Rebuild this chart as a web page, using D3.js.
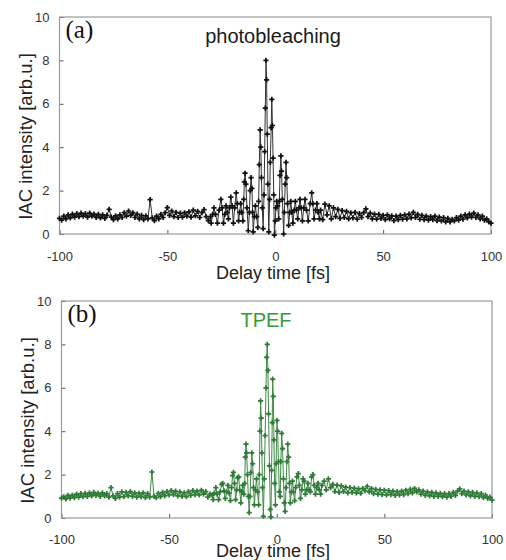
<!DOCTYPE html>
<html>
<head>
<meta charset="utf-8" />
<style>
  body { margin: 0; background: #fff; }
  svg text { font-family: "Liberation Sans", Arial, sans-serif; }
  .tick text { fill: #333; font-size: 13px; }
</style>
</head>
<body>
<div id="chart"></div>
<script src="https://d3js.org/d3.v7.min.js"></script>
<script>
// axis ticks
var xTicks = [-100, -50, 0, 50, 100];
var yTicks = [0, 2, 4, 6, 8, 10];

// (a) photobleaching: wings sampled every 1 fs, centre read fringe by fringe
var wingLeftA = [
  0.72, 0.64, 0.82, 0.70, 0.88, 0.74, 0.92, 0.78, 0.94, 0.80,
  0.96, 0.82, 0.94, 0.78, 0.96, 0.82, 0.92, 0.76, 0.90, 0.74,
  0.88, 0.72, 0.86, 1.14, 0.78, 0.66, 0.84, 0.70, 0.88, 0.76,
  0.98, 0.82, 1.06, 0.86, 0.98, 0.76, 0.92, 0.70, 0.86, 0.66,
  0.84, 0.70, 1.58, 0.74, 0.62, 0.82, 0.70, 0.90, 0.76, 0.98,
  1.22, 0.86, 1.06, 0.80, 1.00, 0.76, 0.96, 0.78, 0.98, 0.82,
  1.02, 0.78, 1.10, 0.84, 1.04, 0.76, 0.98, 1.12, 0.80, 0.62
];
var centreDelayA = [
  -30.0, -29.7, -29.0, -28.4, -27.7, -26.8, -26.0, -25.2, -24.6, -24.0,
  -23.4, -22.8, -22.2, -21.7, -21.2, -20.6, -20.0, -19.4, -18.8, -18.1,
  -17.6, -17.0, -16.5, -16.0, -15.5, -15.0, -14.6, -14.3, -14.0, -13.6,
  -13.1, -12.5, -12.0, -11.6, -11.2, -10.8, -10.5, -10.2, -9.7, -9.2,
  -8.6, -8.1, -7.7, -7.4, -7.0, -6.7, -6.4, -6.0, -5.6, -5.2,
  -4.9, -4.6, -4.3, -4.0, -3.7, -3.4, -3.0, -2.6, -2.3, -1.9,
  -1.6, -1.3, -1.0, -0.7, -0.4, 0.0, 0.3, 0.7, 1.1, 1.6,
  1.9, 2.2, 2.6, 2.9, 3.3, 3.9, 4.2, 4.6, 5.0, 5.3,
  5.7, 6.2, 6.7, 7.2, 7.7, 8.2, 8.8, 9.3, 9.8, 10.4,
  11.0, 11.5, 12.0, 12.6, 13.2, 13.8, 14.5, 15.3, 16.2, 16.9,
  17.4, 18.0, 18.7, 19.3, 19.9, 20.5
];
var centreValueA = [
  0.80, 0.50, 0.90, 1.20, 0.90, 0.50, 1.10, 1.60, 1.20, 0.50,
  0.90, 1.30, 1.00, 0.70, 1.20, 1.70, 1.30, 0.50, 1.20, 1.90,
  1.40, 0.60, 1.00, 1.40, 1.00, 0.60, 1.60, 2.40, 2.80, 2.30,
  1.20, 0.15, 1.00, 2.00, 2.60, 2.10, 1.00, 0.10, 0.80, 1.30,
  0.80, 0.30, 1.50, 3.20, 4.80, 4.00, 2.60, 1.20, 0.25, 1.80,
  3.80, 5.80, 8.00, 7.10, 4.60, 2.30, 0.10, 1.60, 3.30, 4.90,
  6.20, 5.00, 3.50, 1.80, -0.05, 0.60, 1.20, 1.50, 1.30, 0.70,
  1.50, 2.70, 3.60, 2.90, 1.60, 0.00, 1.00, 2.30, 3.30, 2.60,
  1.40, 0.40, 1.00, 1.50, 1.00, 0.50, 1.10, 1.50, 1.10, 0.70,
  1.20, 1.60, 1.20, 0.60, 1.20, 1.60, 1.10, 0.60, 1.40, 1.90,
  1.40, 0.70, 1.10, 1.40, 1.00, 0.70
];
var wingRightA = [
  1.10, 0.66, 1.38, 0.88, 1.30, 0.70, 1.20, 0.80, 1.14, 0.72,
  1.08, 0.76, 1.04, 0.70, 0.98, 0.74, 1.00, 0.68, 0.94, 0.76,
  0.98, 1.16, 0.80, 0.96, 0.70, 0.92, 0.68, 0.90, 0.72, 0.86,
  0.66, 0.88, 0.70, 0.84, 0.62, 0.82, 0.66, 0.86, 0.68, 0.88,
  0.70, 0.92, 0.74, 1.00, 0.76, 0.90, 0.68, 0.86, 0.66, 0.82,
  0.64, 0.80, 0.66, 0.82, 0.62, 0.78, 0.60, 0.76, 0.56, 0.72,
  0.56, 0.68, 0.60, 0.76, 0.64, 0.82, 0.68, 0.88, 0.74, 0.92,
  0.78, 0.96, 0.76, 0.88, 0.70, 0.82, 0.64, 0.70, 0.56, 0.50
];

// (b) TPEF
var wingLeftB = [
  0.92, 0.98, 0.88, 1.04, 0.92, 1.06, 0.94, 1.10, 0.96, 1.12,
  0.98, 1.14, 1.00, 1.16, 1.02, 1.18, 1.04, 1.14, 1.00, 1.16,
  1.02, 1.12, 0.96, 1.40, 1.02, 0.90, 1.12, 0.96, 1.20, 0.98,
  1.18, 1.02, 1.22, 1.00, 1.16, 0.96, 1.14, 0.98, 1.16, 0.94,
  1.12, 0.96, 2.12, 1.00, 0.94, 1.14, 0.98, 1.18, 1.02, 1.22,
  1.06, 1.26, 1.08, 1.24, 1.02, 1.20, 1.00, 1.16, 0.98, 1.22,
  1.04, 1.26, 1.08, 1.24, 1.06, 1.28, 1.10, 1.22, 0.96, 1.10
];
var centreDelayB = [
  -30.0, -29.5, -29.0, -28.3, -27.7, -27.0, -26.3, -25.6, -25.1, -24.5,
  -23.9, -23.3, -22.7, -22.1, -21.5, -21.0, -20.5, -20.1, -19.6, -19.1,
  -18.6, -18.1, -17.7, -17.2, -16.7, -16.2, -15.8, -15.3, -14.9, -14.6,
  -14.3, -14.0, -13.6, -13.2, -12.8, -12.4, -12.0, -11.6, -11.2, -10.8,
  -10.4, -9.9, -9.4, -8.9, -8.4, -8.1, -7.8, -7.5, -7.2, -6.9,
  -6.6, -6.2, -5.8, -5.4, -5.0, -4.7, -4.4, -4.1, -3.8, -3.4,
  -3.0, -2.7, -2.4, -2.1, -1.9, -1.6, -1.3, -1.0, -0.6, -0.3,
  0.1, 0.4, 0.8, 1.2, 1.6, 1.9, 2.3, 2.7, 3.1, 3.5,
  3.9, 4.3, 4.7, 5.1, 5.5, 5.9, 6.3, 6.8, 7.3, 7.8,
  8.3, 8.8, 9.4, 10.0, 10.5, 11.0, 11.6, 12.2, 12.7, 13.3,
  13.9, 14.5, 15.1, 15.6, 16.2, 16.8, 17.4, 18.0, 18.6, 19.2,
  19.8, 20.4
];
var centreValueB = [
  1.05, 0.85, 1.15, 1.40, 1.10, 0.85, 1.20, 1.55, 1.60, 1.25,
  0.90, 1.20, 1.50, 1.15, 0.80, 1.40, 1.95, 2.10, 1.60, 0.85,
  1.30, 1.85, 1.90, 1.30, 0.70, 1.20, 1.50, 1.10, 1.60, 2.80,
  3.40, 3.00, 2.00, 1.00, 0.25, 1.00, 2.10, 3.00, 2.50, 1.40,
  0.60, 1.30, 1.80, 1.20, 0.60, 2.00, 4.00, 5.40, 4.60, 3.00,
  1.40, 0.08, 1.80, 3.80, 6.00, 7.40, 8.00, 6.80, 4.80, 2.40,
  0.40, 0.05, 2.20, 4.40, 6.40, 5.60, 3.60, 1.60, 0.60, 2.50,
  4.50, 4.00, 2.60, 1.20, 1.00, 2.60, 3.90, 3.20, 1.80, 0.70,
  0.30, 1.40, 2.60, 3.40, 2.80, 1.60, 0.70, 1.20, 1.70, 1.20,
  0.80, 1.40, 1.90, 2.05, 1.50, 0.90, 1.30, 1.80, 1.70, 1.10,
  1.30, 1.60, 1.30, 1.20, 1.90, 2.00, 1.50, 1.10, 1.40, 1.60,
  1.30, 1.10
];
var wingRightB = [
  1.50, 1.70, 1.30, 1.80, 1.40, 1.55, 1.22, 1.52, 1.18, 1.48,
  1.22, 1.42, 1.16, 1.40, 1.18, 1.38, 1.16, 1.34, 1.14, 1.36,
  1.26, 1.46, 1.20, 1.36, 1.12, 1.32, 1.10, 1.30, 1.08, 1.28,
  1.06, 1.26, 1.08, 1.24, 1.04, 1.22, 1.06, 1.24, 1.08, 1.28,
  1.12, 1.32, 1.16, 1.36, 1.20, 1.30, 1.10, 1.24, 1.04, 1.20,
  1.02, 1.18, 1.00, 1.16, 1.00, 1.14, 0.98, 1.12, 0.96, 1.12,
  1.00, 1.18, 1.04, 1.24, 1.34, 1.12, 1.24, 1.06, 1.20, 1.02,
  1.18, 1.00, 1.16, 0.98, 1.12, 0.94, 1.06, 0.90, 0.96, 0.82
];

// join wings (1 fs grid) and centre into one trace
function buildTrace(left, cDelay, cValue, right) {
  var pts = [];
  left.forEach(function (v, i) { pts.push([-100 + i, v]); });
  cDelay.forEach(function (t, i) { pts.push([t, cValue[i]]); });
  right.forEach(function (v, i) { pts.push([21 + i, v]); });
  return pts;
}

var w = 506, h = 560;
var svg = d3.select("#chart").append("svg")
  .attr("width", w).attr("height", h);
svg.append("rect").attr("width", w).attr("height", h).attr("fill", "#fff");

function drawPanel(p) {
  var x = d3.scaleLinear().domain([-100, 100]).range([p.left, p.right]);
  var y = d3.scaleLinear().domain([0, 10]).range([p.bottom, p.top]);
  var g = svg.append("g");

  g.append("g")
    .attr("transform", "translate(0," + p.bottom + ")")
    .call(d3.axisBottom(x).tickValues(xTicks).tickFormat(function (d) { return String(d); })
      .tickSizeInner(-4).tickSizeOuter(0).tickPadding(p.xPad))
    .call(function (a) {
      a.select(".domain").remove();
      a.selectAll("line").attr("stroke", "#555");
    });
  g.append("g")
    .attr("transform", "translate(" + p.left + ",0)")
    .call(d3.axisLeft(y).tickValues(yTicks).tickSizeInner(-4).tickSizeOuter(0).tickPadding(10))
    .call(function (a) {
      a.select(".domain").remove();
      a.selectAll("line").attr("stroke", "#555");
    });

  g.append("rect")
    .attr("x", p.left).attr("y", p.top)
    .attr("width", p.right - p.left).attr("height", p.bottom - p.top)
    .attr("fill", "none").attr("stroke", "#9a9a9a").attr("stroke-width", 1.2);

  var line = d3.line().x(function (d) { return x(d[0]); }).y(function (d) { return y(d[1]); });
  g.append("path")
    .attr("d", line(p.data))
    .attr("fill", "none")
    .attr("stroke", p.lineColor)
    .attr("stroke-width", 1);

  g.selectAll(".pt").data(p.data).enter().append("path")
    .attr("class", "pt")
    .attr("transform", function (d) { return "translate(" + x(d[0]) + "," + y(d[1]) + ")"; })
    .attr("d", d3.symbol().type(d3.symbolCross).size(15))
    .attr("fill", p.dotColor);

  g.append("text")
    .attr("x", p.left + 6).attr("y", p.top + 21)
    .style("font-family", "'Liberation Serif', 'Times New Roman', serif")
    .attr("font-size", 25).attr("fill", "#111")
    .text(p.tag);

  g.append("text")
    .attr("x", p.titleX).attr("y", p.top + 26)
    .attr("text-anchor", "middle")
    .attr("font-size", 20).attr("fill", p.titleColor)
    .text(p.title);

  g.append("text")
    .attr("transform", "translate(" + (p.left - 28) + "," + ((p.top + p.bottom) / 2 + 11) + ") rotate(-90)")
    .attr("text-anchor", "middle")
    .attr("font-size", 18.5).attr("fill", "#222")
    .text("IAC intensity [arb.u.]");

  g.append("text")
    .attr("x", 273).attr("y", p.xTitleY)
    .attr("text-anchor", "middle")
    .attr("font-size", 18).attr("fill", "#222")
    .text("Delay time [fs]");
}

drawPanel({
  left: 59.5, right: 491, top: 17, bottom: 234, xPad: 18, xTitleY: 279,
  data: buildTrace(wingLeftA, centreDelayA, centreValueA, wingRightA),
  lineColor: "#333", dotColor: "#111",
  tag: "(a)", title: "photobleaching", titleX: 273, titleColor: "#1a1a1a"
});
drawPanel({
  left: 61.5, right: 492, top: 301, bottom: 518, xPad: 17, xTitleY: 557,
  data: buildTrace(wingLeftB, centreDelayB, centreValueB, wingRightB),
  lineColor: "#3f8a45", dotColor: "#2f7a38",
  tag: "(b)", title: "TPEF", titleX: 266, titleColor: "#3a9a35"
});
</script>
</body>
</html>
